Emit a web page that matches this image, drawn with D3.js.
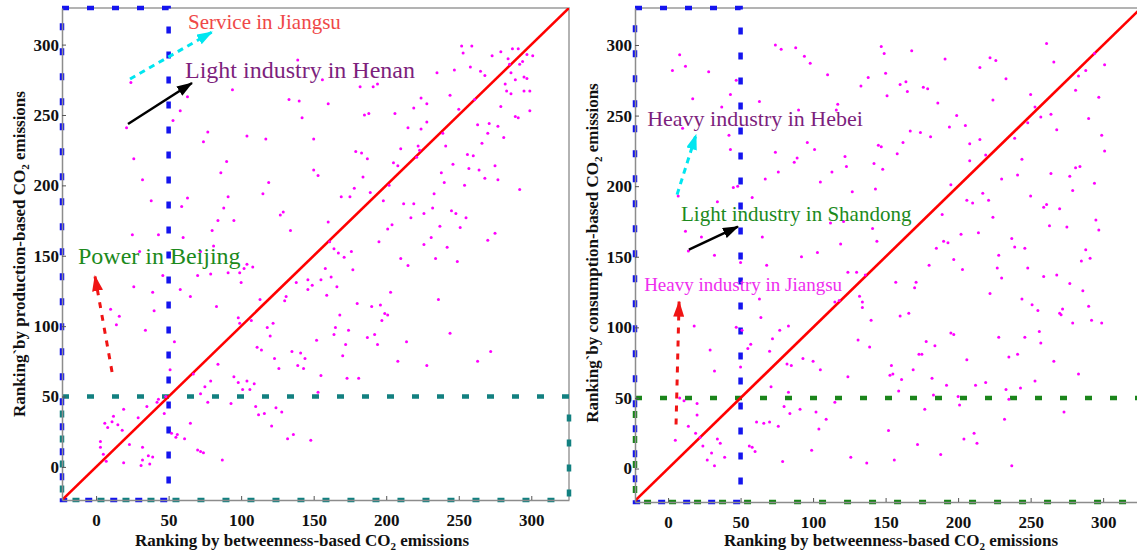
<!DOCTYPE html>
<html>
<head>
<meta charset="utf-8">
<script src="https://cdn.jsdelivr.net/npm/d3@7"></script>
<style>
  body { margin: 0; background: #fff; }
  svg { display: block; font-family: "Liberation Serif", "Times New Roman", serif; }
</style>
</head>
<body>
<div id="chart"></div>
<script>
// [ranking by betweenness, ranking by production]
const productionPairs = [
  [24,273],[21,241],[63,263],[58,253],[53,246],[94,268],[77,238],[74,231],[104,235],[117,233],
  [133,261],[140,260],[139,289],[26,219],[32,204],[90,217],[86,209],[119,202],[115,194],[38,189],
  [63,191],[59,185],[91,192],[88,184],[84,175],[95,175],[80,168],[129,181],[127,179],[134,168],
  [25,165],[43,165],[60,163],[81,157],[72,153],[30,153],[104,144],[108,142],[102,141],[46,136],
  [70,136],[79,137],[91,138],[99,138],
  [252,299],[259,299],[253,294],[273,292],[279,295],[287,297],[291,297],[297,293],[301,292],[294,288],
  [292,286],[284,290],[285,286],[258,284],[247,282],[265,281],[268,278],[235,280],[286,280],[295,277],
  [297,276],[289,275],[282,272],[295,267],[299,267],[283,267],[286,265],[244,264],[261,261],[279,256],
  [299,253],[289,249],[291,248],[224,262],[219,255],[228,258],[250,254],[206,251],[185,250],[188,251],
  [142,248],[160,258],[182,270],[191,270],[194,272],[156,275],[150,233],[215,241],[224,240],[228,245],
  [263,243],[271,244],[277,242],[270,237],[266,230],[281,234],[239,237],[241,228],[210,226],[222,228],
  [223,225],[221,220],[179,224],[183,223],[187,219],[205,216],[208,214],[256,222],[260,221],[246,215],
  [257,212],[264,211],[275,214],[268,205],[277,204],[238,209],[240,202],[254,200],[292,197],[150,211],
  [153,207],[184,206],[202,200],[178,198],[189,195],[169,192],[175,192],[198,189],[233,194],[212,187],
  [219,187],[232,184],[245,182],[248,180],[226,180],[217,177],[255,177],[237,171],[251,170],[275,166],
  [270,161],[231,163],[226,158],[242,156],[204,172],[201,169],[195,160],[160,174],[161,160],[164,155],
  [167,152],[171,149],[176,153],[177,140],[158,141],[162,135],[155,133],[146,133],[210,148],[215,143],
  [234,148],[249,146],
  [26,128],[39,124],[58,126],[100,131],[65,121],[83,114],[40,111],[10,112],[16,107],[14,101],
  [34,97],[54,89],[113,119],[98,106],[99,102],[107,104],[118,99],[122,102],[120,93],[111,85],
  [114,83],[123,77],[126,70],[135,82],[130,118],[131,121],[139,72],[84,73],[51,69],[67,66],
  [79,61],[95,64],[98,60],[104,61],[101,55],[106,55],[109,59],[75,57],[72,52],[77,46],
  [93,45],[110,43],[112,37],[116,38],[124,42],[128,39],[121,29],[132,20],[136,23],[48,50],
  [42,46],[43,48],[35,43],[47,38],[19,41],[12,36],[6,31],[11,32],[15,30],[8,28],
  [18,26],[29,35],[3,18],[3,14],[5,9],[7,4],[19,3],[23,16],[32,14],[32,5],
  [36,8],[39,7],[31,1],[37,2],[52,24],[56,23],[55,21],[61,20],[65,31],[70,12],
  [72,11],[74,10],[87,5],
  [149,129],[166,128],[159,122],[146,126],[138,131],[203,124],[180,116],[190,114],[196,115],[199,109],
  [201,108],[197,104],[168,108],[236,119],[165,99],[164,94],[174,97],[192,94],[187,92],[194,87],
  [172,87],[152,90],[214,89],[244,95],[170,79],[141,81],[144,77],[143,70],[155,65],[153,53],
  [173,63],[181,63],[208,75],[228,72],[263,75],[272,82],[148,19]
];

// [ranking by betweenness, ranking by consumption]
const consumptionPairs = [
  [8,293],[3,282],[12,285],[28,281],[17,262],[47,275],[43,265],[37,256],[63,260],[74,300],
  [78,297],[88,298],[94,292],[98,287],[110,279],[117,258],[116,254],[90,254],[10,241],[42,236],
  [43,226],[96,231],[101,226],[74,224],[87,217],[89,220],[122,221],[123,214],[113,210],[76,210],
  [67,205],[105,203],[127,196],[45,199],[48,200],[58,192],[7,193],[34,189],[12,168],[23,164],
  [65,164],[14,154],[32,151],[50,146],[68,144],[92,150],[103,153],[119,159],[130,139],[112,174],
  [121,175],
  [147,299],[149,294],[168,296],[150,280],[138,277],[133,271],[160,272],[164,274],[165,267],[151,264],
  [176,270],[179,269],[191,290],[186,259],[215,284],[222,291],[226,289],[233,276],[224,261],[261,301],
  [266,288],[294,294],[301,286],[288,282],[283,278],[281,268],[297,263],[250,265],[253,256],[257,249],
  [264,251],[248,245],[268,240],[290,248],[299,236],[301,225],[199,250],[194,242],[205,243],[167,239],
  [174,238],[181,235],[162,231],[145,229],[147,228],[158,223],[142,216],[148,212],[208,230],[215,233],
  [208,218],[219,222],[239,234],[244,219],[241,208],[230,205],[264,209],[277,207],[281,213],[284,214],
  [294,202],[279,197],[195,201],[217,195],[206,190],[210,188],[221,190],[250,193],[259,185],[261,187],
  [270,184],[224,178],[189,180],[143,198],[141,170],[144,161],[263,172],[275,171],[295,176],[297,169],
  [190,161],[193,160],[202,166],[214,167],[237,163],[239,157],[246,156],[185,156],[197,148],[180,144],
  [203,141],[228,151],[227,142],[248,142],[230,135],[259,136],[268,137],[288,155],[285,147],[291,149],
  [136,137],
  [157,132],[170,128],[171,132],[160,108],[166,110],[140,105],[134,118],[132,122],[134,114],[131,91],
  [139,86],[222,124],[277,131],[286,126],[290,115],[292,105],[299,103],[279,103],[270,110],[271,109],
  [272,113],[251,116],[255,112],[244,120],[256,97],[257,89],[246,93],[228,93],[241,81],[235,79],
  [266,76],[283,67],[253,62],[243,57],[233,56],[235,49],[232,35],[273,40],[219,61],[212,59],
  [206,77],[195,96],[197,95],[178,90],[184,87],[173,81],[175,81],[169,70],[182,64],[192,59],
  [154,73],[153,66],[155,67],[161,63],[159,55],[183,52],[177,42],[200,51],[201,45],[152,27],
  [172,17],[156,6],[137,4],[188,10],[204,21],[211,25],[213,18],[237,2],[126,8],
  [124,139],[115,118],[118,119],[124,65],[115,47],[105,70],[109,35],[104,28],[102,40],[91,42],
  [84,39],[80,44],[83,54],[76,30],[70,33],[66,32],[61,33],[71,58],[85,73],[82,74],
  [93,78],[100,76],[77,98],[83,101],[72,92],[70,83],[64,107],[63,120],[57,88],[55,85],
  [51,98],[47,100],[50,72],[58,15],[60,12],[56,16],[99,13],[79,5],[29,84],[32,69],
  [18,101],[20,46],[20,38],[14,30],[19,25],[22,22],[24,16],[30,11],[27,6],[32,2],
  [34,21],[36,18],[39,8],[5,20],[8,50],[11,48]
];

const tickValues = [0, 50, 100, 150, 200, 250, 300];
const topRankCut = 50;

const leftNotes = [
  {text: "Service in Jiangsu", at: [63.4, 311], color: "#ef4848", size: 21},
  {text: "Light industry in Henan", at: [61.3, 276.3], color: "#7d1f7d", size: 24},
  {text: "Power in Beijing", at: [-12.5, 144.1], color: "#1c8a1c", size: 24}
];
const leftArrows = [
  {from: [23.4, 275.6], to: [79.9, 308.9], color: "#00e6f0", dash: "6,5", width: 3},
  {from: [22, 243.6], to: [66.1, 272.7], color: "#000000", dash: null, width: 2.5},
  {from: [11, 67.4], to: [-0.8, 135.6], color: "#f01414", dash: "6,7", width: 3}
];
const rightNotes = [
  {text: "Heavy industry in Hebei", at: [-14.4, 242.8], color: "#7d1f7d", size: 22},
  {text: "Light industry in Shandong", at: [8.9, 175.6], color: "#1c8a1c", size: 21},
  {text: "Heavy industry in Jiangsu", at: [-16.5, 126], color: "#ee2eee", size: 19}
];
const rightArrows = [
  {from: [6.2, 194], to: [19.3, 236.5], color: "#00e6f0", dash: "6,5", width: 3},
  {from: [14.4, 155], to: [48.2, 171.3], color: "#000000", dash: null, width: 2.5},
  {from: [5.5, 31.2], to: [7.6, 118.2], color: "#f01414", dash: "6,7", width: 3}
];

class RankPanel {
  constructor(svg, conf) {
    this.svg = svg;
    this.conf = conf;
    this.g = svg.append("g").attr("class", conf.id);
    this.x = d3.scaleLinear().domain(conf.xDomain).range([conf.left, conf.right]);
    this.y = d3.scaleLinear().domain(conf.yDomain).range([conf.bottom, conf.top]);
    this.render();
  }

  render() {
    this.drawFrame();
    this.drawGuides();
    this.drawDiagonal();
    this.drawPoints();
    this.drawAxes();
    this.drawNotes();
    this.drawTitles();
  }

  drawFrame() {
    const c = this.conf;
    this.g.append("path")
      .attr("d", `M${c.left},${c.top}H${c.right}V${c.bottom}`)
      .attr("fill", "none")
      .attr("stroke", "#9a9a9a")
      .attr("stroke-width", 1.5);
  }

  dashedBox(x0, x1, y0, y1, color) {
    const x = this.x, y = this.y;
    this.g.append("rect")
      .attr("x", x(x0)).attr("y", y(y1))
      .attr("width", x(x1) - x(x0)).attr("height", y(y0) - y(y1))
      .attr("fill", "none")
      .attr("stroke", color)
      .attr("stroke-width", 4.5)
      .attr("stroke-dasharray", "7,18");
  }

  drawGuides() {
    const [xa, xb] = this.x.domain();
    const [ya, yb] = this.y.domain();
    this.dashedBox(xa, xb, ya, topRankCut, this.conf.lowColor);
    this.dashedBox(xa, topRankCut, ya, yb, "#1414ee");
  }

  drawDiagonal() {
    const c = this.conf;
    const clipId = c.id + "-clip";
    this.svg.select("defs").append("clipPath").attr("id", clipId)
      .append("rect")
      .attr("x", c.left).attr("y", c.top)
      .attr("width", c.right - c.left).attr("height", c.bottom - c.top);
    const lo = Math.min(this.x.domain()[0], this.y.domain()[0]);
    const hi = Math.max(this.x.domain()[1], this.y.domain()[1]);
    const line = d3.line().x(d => this.x(d)).y(d => this.y(d));
    this.g.append("path")
      .datum([lo, hi])
      .attr("d", line)
      .attr("clip-path", `url(#${clipId})`)
      .attr("stroke", "#ff0000")
      .attr("stroke-width", 2.6)
      .attr("fill", "none");
  }

  drawPoints() {
    this.g.append("g")
      .selectAll("circle")
      .data(this.conf.data)
      .enter().append("circle")
        .attr("cx", d => this.x(d[0]))
        .attr("cy", d => this.y(d[1]))
        .attr("r", 1.5)
        .attr("fill", "#ff00ff");
  }

  styleAxis(sel) {
    sel.attr("font-family", null).attr("font-size", null);
    sel.select(".domain").attr("stroke", "#8c8c8c").attr("stroke-width", 1.5);
    sel.selectAll(".tick line").attr("stroke", "#555").attr("stroke-width", 1);
    sel.selectAll(".tick text")
      .attr("fill", "#111")
      .style("font-size", "17px")
      .style("font-weight", "bold");
  }

  drawAxes() {
    const c = this.conf;
    const xAxis = d3.axisBottom(this.x).tickValues(tickValues)
      .tickSizeInner(-4).tickSizeOuter(0).tickPadding(14);
    const yAxis = d3.axisLeft(this.y).tickValues(tickValues)
      .tickSizeInner(-4).tickSizeOuter(0).tickPadding(3);

    this.g.append("g")
      .attr("transform", `translate(0,${c.bottom})`)
      .call(xAxis)
      .call(s => this.styleAxis(s));
    this.g.append("g")
      .attr("transform", `translate(${c.left},0)`)
      .call(yAxis)
      .call(s => this.styleAxis(s));
  }

  drawNotes() {
    const defs = this.svg.select("defs");
    this.conf.arrows.forEach((a, i) => {
      const id = `${this.conf.id}-head-${i}`;
      defs.append("marker")
        .attr("id", id)
        .attr("viewBox", "0 0 16 11")
        .attr("refX", 15).attr("refY", 5.5)
        .attr("markerWidth", 16).attr("markerHeight", 11)
        .attr("markerUnits", "userSpaceOnUse")
        .attr("orient", "auto")
        .append("path")
          .attr("d", "M0,0L16,5.5L0,11Z")
          .attr("fill", a.color);
      this.g.append("line")
        .attr("x1", this.x(a.from[0])).attr("y1", this.y(a.from[1]))
        .attr("x2", this.x(a.to[0])).attr("y2", this.y(a.to[1]))
        .attr("stroke", a.color)
        .attr("stroke-width", a.width)
        .attr("stroke-dasharray", a.dash)
        .attr("marker-end", `url(#${id})`);
    });

    this.g.selectAll(".note")
      .data(this.conf.notes)
      .enter().append("text")
        .attr("class", "note")
        .attr("x", d => this.x(d.at[0]))
        .attr("y", d => this.y(d.at[1]))
        .attr("fill", d => d.color)
        .style("font-size", d => d.size + "px")
        .text(d => d.text);
  }

  // axis titles with the CO2 subscript
  title(parent, before) {
    parent.append("tspan").text(before + "CO");
    parent.append("tspan").attr("dy", 4).style("font-size", "11px").text("2");
    parent.append("tspan").attr("dy", -4).text(" emissions");
  }

  drawTitles() {
    const c = this.conf;
    const xt = this.g.append("text")
      .attr("x", c.xTitleAt[0]).attr("y", c.xTitleAt[1])
      .attr("text-anchor", "middle")
      .style("font-size", "17px").style("font-weight", "bold")
      .attr("fill", "#111");
    this.title(xt, "Ranking by betweenness-based ");

    const yt = this.g.append("text")
      .attr("transform", `translate(${c.yTitleAt[0]},${c.yTitleAt[1]}) rotate(-90)`)
      .attr("text-anchor", "middle")
      .style("font-size", "17px").style("font-weight", "bold")
      .attr("fill", "#111");
    this.title(yt, c.yLabel);
  }
}

const svg = d3.select("#chart").append("svg")
  .attr("width", 1137)
  .attr("height", 552);
svg.append("defs");

new RankPanel(svg, {
  id: "production",
  data: productionPairs,
  left: 62, right: 569, top: 8, bottom: 500,
  xDomain: [-23.5, 326], yDomain: [-23.5, 326],
  lowColor: "#128080",
  notes: leftNotes, arrows: leftArrows,
  xTitleAt: [302, 546], yTitleAt: [25, 254],
  yLabel: "Ranking`by production-based "
});

// the right frame runs just past the picture edge
new RankPanel(svg, {
  id: "consumption",
  data: consumptionPairs,
  left: 635, right: 1141, top: 8, bottom: 502,
  xDomain: [-22.8, 326.1], yDomain: [-23.7, 326.2],
  lowColor: "#1a851a",
  notes: rightNotes, arrows: rightArrows,
  xTitleAt: [891, 546], yTitleAt: [598, 253],
  yLabel: "Ranking`by consumption-based "
});
</script>
</body>
</html>
